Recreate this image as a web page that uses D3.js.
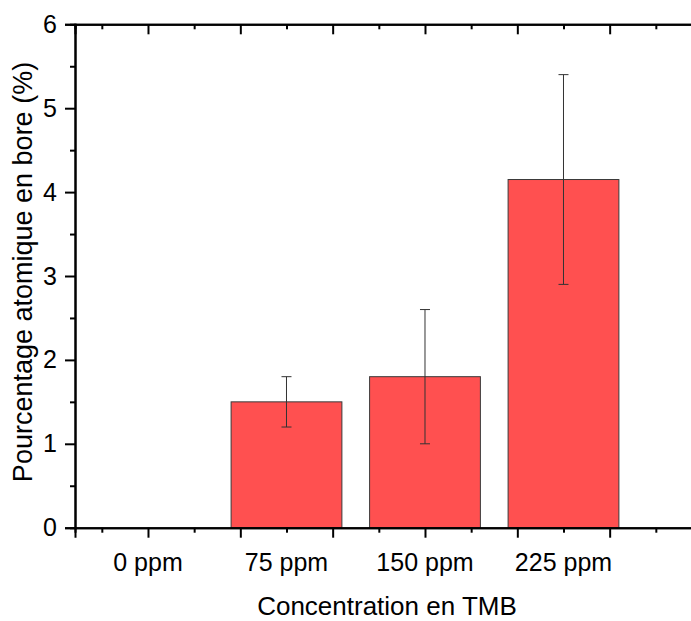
<!DOCTYPE html>
<html>
<head>
<meta charset="utf-8">
<title>Bore TMB</title>
<script src="https://cdn.jsdelivr.net/npm/d3@7"></script>
<style>
  body { margin: 0; background: #fff; }
  text { font-family: "Liberation Sans", Arial, sans-serif; fill: #000; }
</style>
</head>
<body>
<script>
// data
var categories = ["0 ppm", "75 ppm", "150 ppm", "225 ppm"];
var values = [0, 1.5, 1.8, 4.15];
var errors = [0, 0.3, 0.8, 1.25];
var yTicks = [0, 1, 2, 3, 4, 5, 6];

var W = 691, H = 621;
var mLeft = 75, mTop = 24.3, mBottom = 527.7, mRight = 720; // frame runs past the image edge

var svg = d3.select("body").append("svg")
  .attr("width", W).attr("height", H);

// Origin-style numeric x: category i sits at i+1
var x = d3.scaleLinear().domain([0.473, 5.13]).range([mLeft, mRight]);
var y = d3.scaleLinear().domain([0, 6]).range([mBottom, mTop]);
var barW = x(1.4) - x(0.6);

var data = categories.map(function (c, i) {
  return { cat: c, pos: i + 1, v: values[i], e: errors[i] };
});

// bars
svg.append("g").selectAll("rect")
  .data(data.filter(function (d) { return d.v > 0; }))
  .enter().append("rect")
  .attr("x", function (d) { return x(d.pos) - barW / 2; })
  .attr("y", function (d) { return y(d.v); })
  .attr("width", barW)
  .attr("height", function (d) { return y(0) - y(d.v); })
  .attr("fill", "#ff5050")
  .attr("stroke", "#3a3a3a")
  .attr("stroke-width", 1);

// error bars
var eb = svg.append("g").attr("stroke", "#333").attr("stroke-width", 1)
  .selectAll("g").data(data.filter(function (d) { return d.e > 0; }))
  .enter().append("g");
eb.append("line")
  .attr("x1", function (d) { return x(d.pos); })
  .attr("x2", function (d) { return x(d.pos); })
  .attr("y1", function (d) { return y(d.v - d.e); })
  .attr("y2", function (d) { return y(d.v + d.e); });
[-1, 1].forEach(function (s) {
  eb.append("line")
    .attr("x1", function (d) { return x(d.pos) - 5; })
    .attr("x2", function (d) { return x(d.pos) + 5; })
    .attr("y1", function (d) { return y(d.v + s * d.e); })
    .attr("y2", function (d) { return y(d.v + s * d.e); });
});

// x ticks every 1/3 category, major every 2/3
var xMajor = [], xMinor = [];
for (var k = -1; k < 13; k++) {
  var v = 1 + k / 3;
  if (v < x.domain()[0] || v > x.domain()[1]) continue;
  (k % 2 === 0 ? xMajor : xMinor).push(v);
}

function styleAxis(g) {
  g.selectAll(".domain").attr("stroke", "#000").attr("stroke-width", 2);
  g.selectAll(".tick line").attr("stroke", "#000").attr("stroke-width", 2);
}

// bottom axis
var xb = svg.append("g").attr("transform", "translate(0," + mBottom + ")");
xb.call(d3.axisBottom(x).tickValues(xMinor).tickSize(5).tickFormat("")).call(styleAxis);
xb.append("g").call(d3.axisBottom(x).tickValues(xMajor).tickSize(10).tickFormat("")).call(styleAxis);

// top axis, ticks inward
var xt = svg.append("g").attr("transform", "translate(0," + mTop + ")");
xt.call(d3.axisBottom(x).tickValues(xMinor).tickSize(5).tickFormat("")).call(styleAxis);
xt.append("g").call(d3.axisBottom(x).tickValues(xMajor).tickSize(10).tickFormat("")).call(styleAxis);

// left axis
var ya = svg.append("g").attr("transform", "translate(" + mLeft + ",0)");
ya.call(d3.axisLeft(y).tickValues(d3.range(0.5, 6, 1)).tickSize(5).tickFormat("")).call(styleAxis);
var yaMaj = ya.append("g")
  .call(d3.axisLeft(y).tickValues(yTicks).tickSize(10).tickPadding(8).tickFormat(d3.format("d")))
  .call(styleAxis);
yaMaj.selectAll("text")
  .style("font-size", "25px")
  .style("font-family", "Liberation Sans, Arial, sans-serif")
  .attr("fill", "#000");

// category labels
svg.append("g").selectAll("text").data(data).enter().append("text")
  .attr("x", function (d) { return x(d.pos); })
  .attr("y", 571)
  .attr("text-anchor", "middle")
  .style("font-size", "25px")
  .text(function (d) { return d.cat; });

// axis titles
svg.append("text")
  .attr("x", 387).attr("y", 615)
  .attr("text-anchor", "middle")
  .style("font-size", "26px")
  .text("Concentration en TMB");

svg.append("text")
  .attr("transform", "translate(32,272) rotate(-90)")
  .attr("text-anchor", "middle")
  .style("font-size", "27px")
  .text("Pourcentage atomique en bore (%)");
</script>
</body>
</html>
